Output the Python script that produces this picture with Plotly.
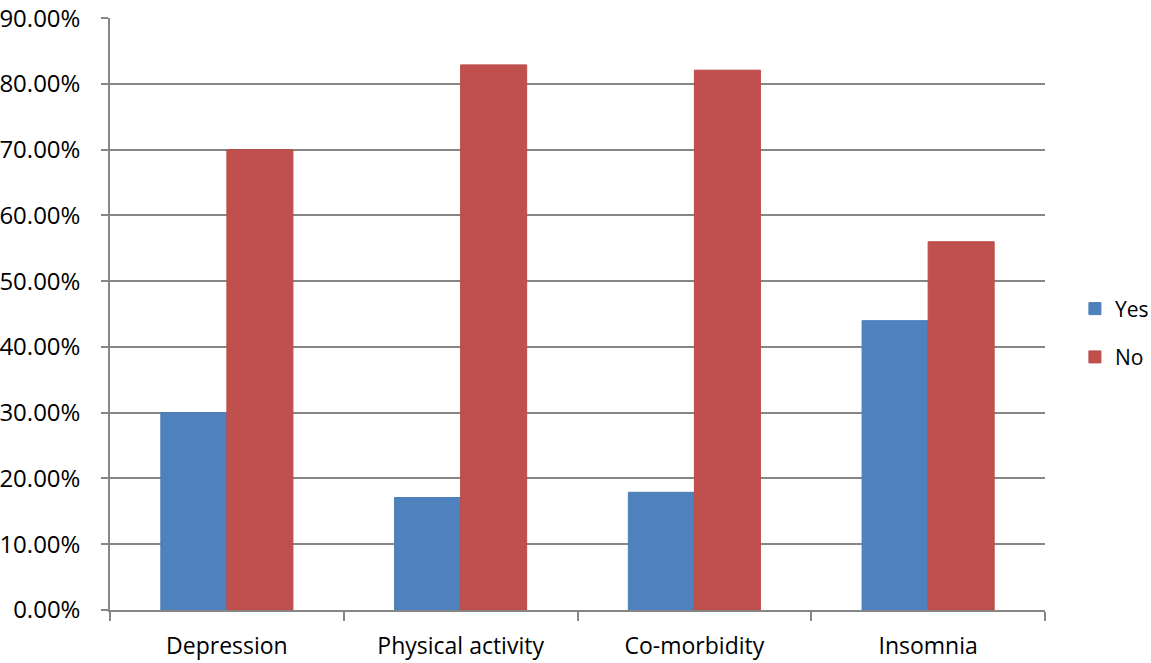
import plotly.graph_objects as go

categories = ["Depression", "Physical activity", "Co-morbidity", "Insomnia"]
yes_values = [0.30, 0.171, 0.179, 0.44]
no_values = [0.70, 0.829, 0.821, 0.56]
y_ticks = [0, 0.1, 0.2, 0.3, 0.4, 0.5, 0.6, 0.7, 0.8, 0.9]

fig = go.Figure()
fig.add_trace(go.Bar(x=categories, y=yes_values, name="Yes", legendgroup="yes",
                     marker=dict(color="#4F81BD", line=dict(color="#4A7DBA", width=1))))
fig.add_trace(go.Bar(x=categories, y=no_values, name="No", legendgroup="no",
                     marker=dict(color="#C0504D", line=dict(color="#BC4B48", width=1))))

fig.update_layout(
    width=1151, height=663,
    margin=dict(l=110, r=106, t=18, b=53, autoexpand=False),
    paper_bgcolor="white", plot_bgcolor="white",
    barmode="group", bargap=0.435, bargroupgap=0,
    font=dict(family="Open Sans", size=23, color="#000000"),
    legend=dict(x=1.032, y=0.468, xanchor="left", yanchor="middle",
                font=dict(size=21), tracegroupgap=18, itemwidth=30),
    xaxis=dict(showline=True, linecolor="#868686", linewidth=1.5,
               ticks="outside", tickson="boundaries", ticklen=9, tickwidth=1.5,
               tickcolor="#868686", showgrid=False, tickfont=dict(size=23),
               ticklabelstandoff=15, automargin=False),
    # tiny headroom so the 90% tick and gridline are kept
    yaxis=dict(range=[0, 0.9003], tickvals=y_ticks, tickformat=".2%",
               showline=True, linecolor="#868686", linewidth=1.5,
               showgrid=True, gridcolor="#868686", gridwidth=1.5,
               ticks="outside", ticklen=7, tickwidth=1.5, tickcolor="#868686",
               ticklabelstandoff=16, zeroline=False, tickfont=dict(size=24),
               automargin=False),
)

# drop the default page margin so the figure sits at the window's corner
fig.write_html("out.html", config={"displayModeBar": False},
               post_script="document.body.style.margin = '0';")
